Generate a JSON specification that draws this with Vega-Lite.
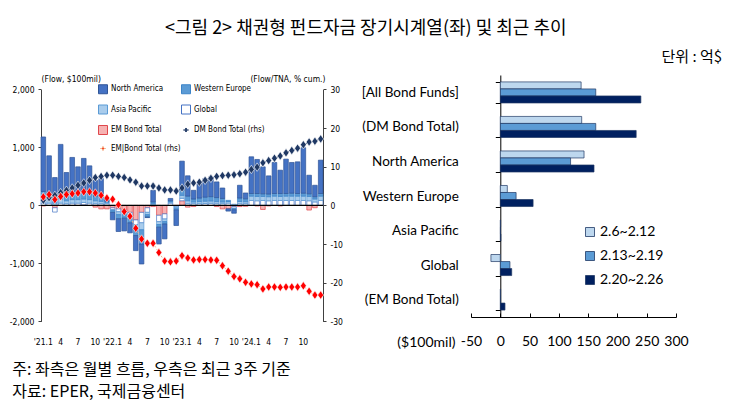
{
  "$schema": "https://vega.github.io/schema/vega-lite/v6.json",
  "padding": {"left": 9, "top": 20, "right": 2, "bottom": 2},
  "background": "white",
  "title": {"text": "<그림 2> 채권형 펀드자금 장기시계열(좌) 및 최근 추이", "anchor": "middle", "font": "Noto Sans CJK KR", "fontSize": 18, "fontWeight": "normal", "color": "#000", "offset": 12},
  "config": {"view": {"stroke": null}, "axis": {"labelColor": "#000", "titleColor": "#000"}, "legend": {"padding": 0}},
  "datasets": {
    "bars": [
      {"m":"2021-01","s":"EM Bond Total","v":-10},{"m":"2021-01","s":"Global","v":40},{"m":"2021-01","s":"Asia Pacific","v":80},{"m":"2021-01","s":"Western Europe","v":120},{"m":"2021-01","s":"North America","v":940},
      {"m":"2021-02","s":"Global","v":40},{"m":"2021-02","s":"Asia Pacific","v":60},{"m":"2021-02","s":"Western Europe","v":100},{"m":"2021-02","s":"North America","v":655},
      {"m":"2021-03","s":"EM Bond Total","v":-40},{"m":"2021-03","s":"Global","v":-75},{"m":"2021-03","s":"Asia Pacific","v":40},{"m":"2021-03","s":"Western Europe","v":60},{"m":"2021-03","s":"North America","v":380},
      {"m":"2021-04","s":"Global","v":40},{"m":"2021-04","s":"Asia Pacific","v":70},{"m":"2021-04","s":"Western Europe","v":110},{"m":"2021-04","s":"North America","v":832},
      {"m":"2021-05","s":"Global","v":30},{"m":"2021-05","s":"Asia Pacific","v":50},{"m":"2021-05","s":"Western Europe","v":90},{"m":"2021-05","s":"North America","v":397},
      {"m":"2021-06","s":"Global","v":40},{"m":"2021-06","s":"Asia Pacific","v":60},{"m":"2021-06","s":"Western Europe","v":100},{"m":"2021-06","s":"North America","v":627},
      {"m":"2021-07","s":"Global","v":40},{"m":"2021-07","s":"Asia Pacific","v":60},{"m":"2021-07","s":"Western Europe","v":100},{"m":"2021-07","s":"North America","v":465},
      {"m":"2021-08","s":"EM Bond Total","v":10},{"m":"2021-08","s":"Global","v":40},{"m":"2021-08","s":"Asia Pacific","v":60},{"m":"2021-08","s":"Western Europe","v":110},{"m":"2021-08","s":"North America","v":590},
      {"m":"2021-09","s":"Global","v":40},{"m":"2021-09","s":"Asia Pacific","v":60},{"m":"2021-09","s":"Western Europe","v":100},{"m":"2021-09","s":"North America","v":482},
      {"m":"2021-10","s":"EM Bond Total","v":-30},{"m":"2021-10","s":"Global","v":30},{"m":"2021-10","s":"Asia Pacific","v":50},{"m":"2021-10","s":"Western Europe","v":80},{"m":"2021-10","s":"North America","v":270},
      {"m":"2021-11","s":"EM Bond Total","v":-60},{"m":"2021-11","s":"Global","v":30},{"m":"2021-11","s":"Asia Pacific","v":40},{"m":"2021-11","s":"Western Europe","v":80},{"m":"2021-11","s":"North America","v":312},
      {"m":"2021-12","s":"EM Bond Total","v":-60},{"m":"2021-12","s":"Global","v":30},{"m":"2021-12","s":"Asia Pacific","v":20},{"m":"2021-12","s":"Western Europe","v":20},{"m":"2021-12","s":"North America","v":50},
      {"m":"2022-01","s":"EM Bond Total","v":-40},{"m":"2022-01","s":"Global","v":-30},{"m":"2022-01","s":"Asia Pacific","v":-20},{"m":"2022-01","s":"Western Europe","v":-30},{"m":"2022-01","s":"North America","v":-128},
      {"m":"2022-02","s":"EM Bond Total","v":-60},{"m":"2022-02","s":"Global","v":-50},{"m":"2022-02","s":"Asia Pacific","v":-50},{"m":"2022-02","s":"Western Europe","v":-70},{"m":"2022-02","s":"North America","v":-220},
      {"m":"2022-03","s":"EM Bond Total","v":-80},{"m":"2022-03","s":"Global","v":-40},{"m":"2022-03","s":"Asia Pacific","v":-40},{"m":"2022-03","s":"Western Europe","v":-60},{"m":"2022-03","s":"North America","v":-220},
      {"m":"2022-04","s":"EM Bond Total","v":-120},{"m":"2022-04","s":"Global","v":-60},{"m":"2022-04","s":"Asia Pacific","v":-50},{"m":"2022-04","s":"Western Europe","v":-70},{"m":"2022-04","s":"North America","v":-173},
      {"m":"2022-05","s":"EM Bond Total","v":-250},{"m":"2022-05","s":"Global","v":-80},{"m":"2022-05","s":"Asia Pacific","v":-60},{"m":"2022-05","s":"Western Europe","v":-130},{"m":"2022-05","s":"North America","v":-260},
      {"m":"2022-06","s":"EM Bond Total","v":-120},{"m":"2022-06","s":"Global","v":-180},{"m":"2022-06","s":"Asia Pacific","v":-120},{"m":"2022-06","s":"Western Europe","v":-245},{"m":"2022-06","s":"North America","v":-345},
      {"m":"2022-07","s":"EM Bond Total","v":-40},{"m":"2022-07","s":"Global","v":-80},{"m":"2022-07","s":"Asia Pacific","v":-40},{"m":"2022-07","s":"Western Europe","v":-40},{"m":"2022-07","s":"North America","v":-10},
      {"m":"2022-08","s":"EM Bond Total","v":-20},{"m":"2022-08","s":"Global","v":10},{"m":"2022-08","s":"Asia Pacific","v":20},{"m":"2022-08","s":"Western Europe","v":30},{"m":"2022-08","s":"North America","v":200},
      {"m":"2022-09","s":"EM Bond Total","v":-170},{"m":"2022-09","s":"Global","v":-110},{"m":"2022-09","s":"Asia Pacific","v":-50},{"m":"2022-09","s":"Western Europe","v":-45},{"m":"2022-09","s":"North America","v":-290},
      {"m":"2022-10","s":"EM Bond Total","v":-145},{"m":"2022-10","s":"Global","v":-90},{"m":"2022-10","s":"Asia Pacific","v":-45},{"m":"2022-10","s":"Western Europe","v":-40},{"m":"2022-10","s":"North America","v":-257},
      {"m":"2022-11","s":"Global","v":40},{"m":"2022-11","s":"Asia Pacific","v":20},{"m":"2022-11","s":"Western Europe","v":20},{"m":"2022-11","s":"North America","v":40},
      {"m":"2022-12","s":"EM Bond Total","v":-10},{"m":"2022-12","s":"Global","v":-17},{"m":"2022-12","s":"Asia Pacific","v":-20},{"m":"2022-12","s":"Western Europe","v":-30},{"m":"2022-12","s":"North America","v":-270},
      {"m":"2023-01","s":"EM Bond Total","v":80},{"m":"2023-01","s":"Global","v":43},{"m":"2023-01","s":"Asia Pacific","v":50},{"m":"2023-01","s":"Western Europe","v":90},{"m":"2023-01","s":"North America","v":500},
      {"m":"2023-02","s":"EM Bond Total","v":-30},{"m":"2023-02","s":"Global","v":30},{"m":"2023-02","s":"Asia Pacific","v":50},{"m":"2023-02","s":"Western Europe","v":80},{"m":"2023-02","s":"North America","v":350},
      {"m":"2023-03","s":"EM Bond Total","v":-20},{"m":"2023-03","s":"Global","v":30},{"m":"2023-03","s":"Asia Pacific","v":30},{"m":"2023-03","s":"Western Europe","v":50},{"m":"2023-03","s":"North America","v":150},
      {"m":"2023-04","s":"Global","v":30},{"m":"2023-04","s":"Asia Pacific","v":36},{"m":"2023-04","s":"Western Europe","v":60},{"m":"2023-04","s":"North America","v":250},
      {"m":"2023-05","s":"Global","v":32},{"m":"2023-05","s":"Asia Pacific","v":40},{"m":"2023-05","s":"Western Europe","v":70},{"m":"2023-05","s":"North America","v":320},
      {"m":"2023-06","s":"Global","v":36},{"m":"2023-06","s":"Asia Pacific","v":40},{"m":"2023-06","s":"Western Europe","v":75},{"m":"2023-06","s":"North America","v":340},
      {"m":"2023-07","s":"EM Bond Total","v":-20},{"m":"2023-07","s":"Global","v":30},{"m":"2023-07","s":"Asia Pacific","v":35},{"m":"2023-07","s":"Western Europe","v":70},{"m":"2023-07","s":"North America","v":270},
      {"m":"2023-08","s":"EM Bond Total","v":-60},{"m":"2023-08","s":"Global","v":30},{"m":"2023-08","s":"Asia Pacific","v":30},{"m":"2023-08","s":"Western Europe","v":60},{"m":"2023-08","s":"North America","v":180},
      {"m":"2023-09","s":"EM Bond Total","v":-58},{"m":"2023-09","s":"Global","v":40},{"m":"2023-09","s":"Asia Pacific","v":27},{"m":"2023-09","s":"Western Europe","v":20},{"m":"2023-09","s":"North America","v":-40},
      {"m":"2023-10","s":"EM Bond Total","v":-20},{"m":"2023-10","s":"Global","v":-30},{"m":"2023-10","s":"Asia Pacific","v":20},{"m":"2023-10","s":"Western Europe","v":-25},{"m":"2023-10","s":"North America","v":-60},
      {"m":"2023-11","s":"EM Bond Total","v":-20},{"m":"2023-11","s":"Global","v":30},{"m":"2023-11","s":"Asia Pacific","v":37},{"m":"2023-11","s":"Western Europe","v":60},{"m":"2023-11","s":"North America","v":220},
      {"m":"2023-12","s":"EM Bond Total","v":-15},{"m":"2023-12","s":"Global","v":30},{"m":"2023-12","s":"Asia Pacific","v":34},{"m":"2023-12","s":"Western Europe","v":50},{"m":"2023-12","s":"North America","v":100},
      {"m":"2024-01","s":"Global","v":85},{"m":"2024-01","s":"Asia Pacific","v":75},{"m":"2024-01","s":"Western Europe","v":45},{"m":"2024-01","s":"North America","v":633},
      {"m":"2024-02","s":"EM Bond Total","v":-10},{"m":"2024-02","s":"Global","v":80},{"m":"2024-02","s":"Asia Pacific","v":75},{"m":"2024-02","s":"Western Europe","v":50},{"m":"2024-02","s":"North America","v":587},
      {"m":"2024-03","s":"EM Bond Total","v":-70},{"m":"2024-03","s":"Global","v":85},{"m":"2024-03","s":"Asia Pacific","v":70},{"m":"2024-03","s":"Western Europe","v":45},{"m":"2024-03","s":"North America","v":465},
      {"m":"2024-04","s":"EM Bond Total","v":-10},{"m":"2024-04","s":"Global","v":80},{"m":"2024-04","s":"Asia Pacific","v":70},{"m":"2024-04","s":"Western Europe","v":45},{"m":"2024-04","s":"North America","v":314},
      {"m":"2024-05","s":"Global","v":85},{"m":"2024-05","s":"Asia Pacific","v":75},{"m":"2024-05","s":"Western Europe","v":45},{"m":"2024-05","s":"North America","v":535},
      {"m":"2024-06","s":"EM Bond Total","v":-10},{"m":"2024-06","s":"Global","v":85},{"m":"2024-06","s":"Asia Pacific","v":70},{"m":"2024-06","s":"Western Europe","v":50},{"m":"2024-06","s":"North America","v":402},
      {"m":"2024-07","s":"Global","v":85},{"m":"2024-07","s":"Asia Pacific","v":75},{"m":"2024-07","s":"Western Europe","v":45},{"m":"2024-07","s":"North America","v":593},
      {"m":"2024-08","s":"Global","v":85},{"m":"2024-08","s":"Asia Pacific","v":75},{"m":"2024-08","s":"Western Europe","v":50},{"m":"2024-08","s":"North America","v":530},
      {"m":"2024-09","s":"Global","v":85},{"m":"2024-09","s":"Asia Pacific","v":75},{"m":"2024-09","s":"Western Europe","v":45},{"m":"2024-09","s":"North America","v":546},
      {"m":"2024-10","s":"Global","v":85},{"m":"2024-10","s":"Asia Pacific","v":75},{"m":"2024-10","s":"Western Europe","v":50},{"m":"2024-10","s":"North America","v":784},
      {"m":"2024-11","s":"EM Bond Total","v":-80},{"m":"2024-11","s":"Global","v":80},{"m":"2024-11","s":"Asia Pacific","v":75},{"m":"2024-11","s":"Western Europe","v":45},{"m":"2024-11","s":"North America","v":320},
      {"m":"2024-12","s":"EM Bond Total","v":-40},{"m":"2024-12","s":"Global","v":60},{"m":"2024-12","s":"Asia Pacific","v":50},{"m":"2024-12","s":"Western Europe","v":40},{"m":"2024-12","s":"North America","v":197},
      {"m":"2025-01","s":"Global","v":85},{"m":"2025-01","s":"Asia Pacific","v":75},{"m":"2025-01","s":"Western Europe","v":45},{"m":"2025-01","s":"North America","v":575}
    ],
    "lines": [
      {"m":"2021-01","s":"DM Bond Total (rhs)","v":1.3},{"m":"2021-01","s":"EM|Bond Total (rhs)","v":2.2},
      {"m":"2021-02","s":"DM Bond Total (rhs)","v":2.0},{"m":"2021-02","s":"EM|Bond Total (rhs)","v":2.8},
      {"m":"2021-03","s":"DM Bond Total (rhs)","v":2.6},{"m":"2021-03","s":"EM|Bond Total (rhs)","v":1.5},
      {"m":"2021-04","s":"DM Bond Total (rhs)","v":3.3},{"m":"2021-04","s":"EM|Bond Total (rhs)","v":2.3},
      {"m":"2021-05","s":"DM Bond Total (rhs)","v":3.9},{"m":"2021-05","s":"EM|Bond Total (rhs)","v":2.8},
      {"m":"2021-06","s":"DM Bond Total (rhs)","v":4.5},{"m":"2021-06","s":"EM|Bond Total (rhs)","v":3.0},
      {"m":"2021-07","s":"DM Bond Total (rhs)","v":5.2},{"m":"2021-07","s":"EM|Bond Total (rhs)","v":3.2},
      {"m":"2021-08","s":"DM Bond Total (rhs)","v":5.8},{"m":"2021-08","s":"EM|Bond Total (rhs)","v":3.5},
      {"m":"2021-09","s":"DM Bond Total (rhs)","v":6.5},{"m":"2021-09","s":"EM|Bond Total (rhs)","v":3.5},
      {"m":"2021-10","s":"DM Bond Total (rhs)","v":7.2},{"m":"2021-10","s":"EM|Bond Total (rhs)","v":3.2},
      {"m":"2021-11","s":"DM Bond Total (rhs)","v":7.5},{"m":"2021-11","s":"EM|Bond Total (rhs)","v":2.6},
      {"m":"2021-12","s":"DM Bond Total (rhs)","v":7.8},{"m":"2021-12","s":"EM|Bond Total (rhs)","v":1.9},
      {"m":"2022-01","s":"DM Bond Total (rhs)","v":7.8},{"m":"2022-01","s":"EM|Bond Total (rhs)","v":1.6},
      {"m":"2022-02","s":"DM Bond Total (rhs)","v":7.5},{"m":"2022-02","s":"EM|Bond Total (rhs)","v":0.2},
      {"m":"2022-03","s":"DM Bond Total (rhs)","v":7.2},{"m":"2022-03","s":"EM|Bond Total (rhs)","v":-1.6},
      {"m":"2022-04","s":"DM Bond Total (rhs)","v":6.6},{"m":"2022-04","s":"EM|Bond Total (rhs)","v":-2.8},
      {"m":"2022-05","s":"DM Bond Total (rhs)","v":6.0},{"m":"2022-05","s":"EM|Bond Total (rhs)","v":-5.9},
      {"m":"2022-06","s":"DM Bond Total (rhs)","v":5.0},{"m":"2022-06","s":"EM|Bond Total (rhs)","v":-8.7},
      {"m":"2022-07","s":"DM Bond Total (rhs)","v":5.0},{"m":"2022-07","s":"EM|Bond Total (rhs)","v":-9.8},
      {"m":"2022-08","s":"DM Bond Total (rhs)","v":5.0},{"m":"2022-08","s":"EM|Bond Total (rhs)","v":-9.8},
      {"m":"2022-09","s":"DM Bond Total (rhs)","v":4.5},{"m":"2022-09","s":"EM|Bond Total (rhs)","v":-12.2},
      {"m":"2022-10","s":"DM Bond Total (rhs)","v":4.0},{"m":"2022-10","s":"EM|Bond Total (rhs)","v":-14.4},
      {"m":"2022-11","s":"DM Bond Total (rhs)","v":4.0},{"m":"2022-11","s":"EM|Bond Total (rhs)","v":-14.6},
      {"m":"2022-12","s":"DM Bond Total (rhs)","v":3.7},{"m":"2022-12","s":"EM|Bond Total (rhs)","v":-14.4},
      {"m":"2023-01","s":"DM Bond Total (rhs)","v":4.5},{"m":"2023-01","s":"EM|Bond Total (rhs)","v":-13.0},
      {"m":"2023-02","s":"DM Bond Total (rhs)","v":5.5},{"m":"2023-02","s":"EM|Bond Total (rhs)","v":-13.6},
      {"m":"2023-03","s":"DM Bond Total (rhs)","v":5.8},{"m":"2023-03","s":"EM|Bond Total (rhs)","v":-14.1},
      {"m":"2023-04","s":"DM Bond Total (rhs)","v":6.0},{"m":"2023-04","s":"EM|Bond Total (rhs)","v":-14.0},
      {"m":"2023-05","s":"DM Bond Total (rhs)","v":6.5},{"m":"2023-05","s":"EM|Bond Total (rhs)","v":-14.0},
      {"m":"2023-06","s":"DM Bond Total (rhs)","v":7.0},{"m":"2023-06","s":"EM|Bond Total (rhs)","v":-14.1},
      {"m":"2023-07","s":"DM Bond Total (rhs)","v":7.5},{"m":"2023-07","s":"EM|Bond Total (rhs)","v":-14.2},
      {"m":"2023-08","s":"DM Bond Total (rhs)","v":7.7},{"m":"2023-08","s":"EM|Bond Total (rhs)","v":-15.6},
      {"m":"2023-09","s":"DM Bond Total (rhs)","v":7.8},{"m":"2023-09","s":"EM|Bond Total (rhs)","v":-17.0},
      {"m":"2023-10","s":"DM Bond Total (rhs)","v":7.9},{"m":"2023-10","s":"EM|Bond Total (rhs)","v":-18.4},
      {"m":"2023-11","s":"DM Bond Total (rhs)","v":8.2},{"m":"2023-11","s":"EM|Bond Total (rhs)","v":-19.0},
      {"m":"2023-12","s":"DM Bond Total (rhs)","v":8.6},{"m":"2023-12","s":"EM|Bond Total (rhs)","v":-19.9},
      {"m":"2024-01","s":"DM Bond Total (rhs)","v":9.3},{"m":"2024-01","s":"EM|Bond Total (rhs)","v":-20.3},
      {"m":"2024-02","s":"DM Bond Total (rhs)","v":9.9},{"m":"2024-02","s":"EM|Bond Total (rhs)","v":-20.5},
      {"m":"2024-03","s":"DM Bond Total (rhs)","v":11.0},{"m":"2024-03","s":"EM|Bond Total (rhs)","v":-21.6},
      {"m":"2024-04","s":"DM Bond Total (rhs)","v":11.6},{"m":"2024-04","s":"EM|Bond Total (rhs)","v":-21.1},
      {"m":"2024-05","s":"DM Bond Total (rhs)","v":12.2},{"m":"2024-05","s":"EM|Bond Total (rhs)","v":-21.1},
      {"m":"2024-06","s":"DM Bond Total (rhs)","v":12.8},{"m":"2024-06","s":"EM|Bond Total (rhs)","v":-21.2},
      {"m":"2024-07","s":"DM Bond Total (rhs)","v":13.6},{"m":"2024-07","s":"EM|Bond Total (rhs)","v":-21.1},
      {"m":"2024-08","s":"DM Bond Total (rhs)","v":14.2},{"m":"2024-08","s":"EM|Bond Total (rhs)","v":-21.1},
      {"m":"2024-09","s":"DM Bond Total (rhs)","v":14.8},{"m":"2024-09","s":"EM|Bond Total (rhs)","v":-21.1},
      {"m":"2024-10","s":"DM Bond Total (rhs)","v":15.7},{"m":"2024-10","s":"EM|Bond Total (rhs)","v":-20.8},
      {"m":"2024-11","s":"DM Bond Total (rhs)","v":16.4},{"m":"2024-11","s":"EM|Bond Total (rhs)","v":-22.2},
      {"m":"2024-12","s":"DM Bond Total (rhs)","v":16.6},{"m":"2024-12","s":"EM|Bond Total (rhs)","v":-23.2},
      {"m":"2025-01","s":"DM Bond Total (rhs)","v":17.2},{"m":"2025-01","s":"EM|Bond Total (rhs)","v":-23.2}
    ],
    "recent": [
      {"cat":"[All Bond Funds]","p":"2.6~2.12","v":138},{"cat":"[All Bond Funds]","p":"2.13~2.19","v":163},{"cat":"[All Bond Funds]","p":"2.20~2.26","v":240},
      {"cat":"(DM Bond Total)","p":"2.6~2.12","v":139},{"cat":"(DM Bond Total)","p":"2.13~2.19","v":163},{"cat":"(DM Bond Total)","p":"2.20~2.26","v":232},
      {"cat":"North America","p":"2.6~2.12","v":143},{"cat":"North America","p":"2.13~2.19","v":120},{"cat":"North America","p":"2.20~2.26","v":160},
      {"cat":"Western Europe","p":"2.6~2.12","v":12},{"cat":"Western Europe","p":"2.13~2.19","v":27},{"cat":"Western Europe","p":"2.20~2.26","v":56},
      {"cat":"Asia Pacific","p":"2.6~2.12","v":0.5},{"cat":"Asia Pacific","p":"2.13~2.19","v":0.3},{"cat":"Asia Pacific","p":"2.20~2.26","v":1},
      {"cat":"Global","p":"2.6~2.12","v":-16},{"cat":"Global","p":"2.13~2.19","v":16.5},{"cat":"Global","p":"2.20~2.26","v":19.5},
      {"cat":"(EM Bond Total)","p":"2.6~2.12","v":0.5},{"cat":"(EM Bond Total)","p":"2.13~2.19","v":0.5},{"cat":"(EM Bond Total)","p":"2.20~2.26","v":8}
    ]
  },
  "vconcat": [
    {
      "title": {"text": "단위 : 억$", "anchor": "end", "font": "Noto Sans CJK KR", "fontSize": 15, "fontWeight": "normal", "color": "#000", "offset": 3, "dx": 34},
      "spacing": 18,
      "resolve": {"scale": {"fill": "independent", "stroke": "independent"}, "legend": {"fill": "independent"}},
      "hconcat": [
        {
          "width": 282,
          "height": 246.4,
          "title": {"text": ["주: 좌측은 월별 흐름, 우측은 최근 3주 기준", "자료: EPER, 국제금융센터"], "orient": "bottom", "anchor": "start", "frame": "bounds", "font": "Noto Sans CJK KR", "fontSize": 16, "fontWeight": "normal", "color": "#000", "lineHeight": 22, "offset": 16, "dx": 3},
          "layer": [
            {
              "data": {"name": "bars"},
              "mark": {"type": "bar", "strokeWidth": 0.7},
              "encoding": {
                "x": {"field": "m", "type": "ordinal", "scale": {"paddingInner": 0.2, "paddingOuter": 0},
                  "axis": {"title": null, "labelAngle": 0, "domain": false, "ticks": false, "labelPadding": 16, "labelOverlap": false,
                    "labelFont": "Liberation Sans Narrow, Arial Narrow, DejaVu Sans Condensed, sans-serif", "labelFontSize": 8.5,
                    "labelExpr": "substring(datum.value,5) == '01' ? (substring(datum.value,0,4) == '2025' ? '' : \"'\" + substring(datum.value,2,4) + '.1') : (indexof(['04','07','10'], substring(datum.value,5)) >= 0 ? '' + toNumber(substring(datum.value,5)) : '')"}},
                "y": {"field": "v", "type": "quantitative", "stack": "zero", "scale": {"domain": [-2000, 2000], "nice": false, "range": [246.4, 14.4]},
                  "axis": {"values": [-2000, -1000, 0, 1000, 2000], "labelExpr": "datum.value == 0 ? '0' : (datum.value < 0 ? '-' : '') + format(abs(datum.value), ',')", "grid": false, "title": "(Flow, $100mil)", "titleAngle": 0, "titleX": 0, "titleY": 3.4, "titleAlign": "left", "titleBaseline": "middle",
                    "titleFont": "Liberation Sans Narrow, Arial Narrow, DejaVu Sans Condensed, sans-serif", "titleFontSize": 8.5, "titleFontWeight": "normal",
                    "labelFont": "Liberation Sans Narrow, Arial Narrow, DejaVu Sans Condensed, sans-serif", "labelFontSize": 8.5, "labelPadding": 4, "tickSize": 3, "domainColor": "#404040", "tickColor": "#404040"}},
                "fill": {"field": "s", "type": "nominal",
                  "scale": {"domain": ["North America", "Asia Pacific", "EM Bond Total", "EM|Bond Total (rhs)", "Western Europe", "Global", "DM Bond Total (rhs)"],
                    "range": ["#4472C4", "#A9CCEC", "#F6B2B2", "#FF0000", "#5B9BD5", "#FFFFFF", "#1F3864"]},
                  "legend": {"orient": "none", "legendX": 57, "legendY": 9, "columns": 2, "title": null, "symbolSize": 81, "symbolStrokeWidth": 1,
                    "labelFont": "Liberation Sans Narrow, Arial Narrow, DejaVu Sans Condensed, sans-serif", "labelFontSize": 8, "labelColor": "#000", "labelOffset": 3, "rowPadding": 6.5, "columnPadding": -11,
                    "encode": {"symbols": {"update": {
                      "shape": {"signal": "indexof(datum.value, 'rhs') >= 0 ? 'M-0.62,0H-0.26M0.26,0H0.62M0,-0.45L0.25,0L0,0.45L-0.25,0Z' : 'square'"},
                      "stroke": {"signal": "['#2F5597','#5B9BD5','#E0474C','#F4B183','#3C84C8','#4472C4','#1F3864'][indexof(['North America','Asia Pacific','EM Bond Total','EM|Bond Total (rhs)','Western Europe','Global','DM Bond Total (rhs)'], datum.value)]"},
                      "strokeWidth": {"value": 1},
                      "opacity": {"value": 1}}}}}},
                "stroke": {"field": "s", "type": "nominal",
                  "scale": {"domain": ["North America", "Asia Pacific", "EM Bond Total", "EM|Bond Total (rhs)", "Western Europe", "Global", "DM Bond Total (rhs)"],
                    "range": ["#2F5597", "#5B9BD5", "#E0474C", "#F4B183", "#3C84C8", "#4472C4", "#1F3864"]},
                  "legend": null},
                "order": {"field": "m", "type": "ordinal"}
              }
            },
            {
              "data": {"values": [{}]},
              "mark": {"type": "rule", "color": "#000", "strokeWidth": 1.2},
              "encoding": {"y": {"datum": 0, "type": "quantitative", "scale": {"domain": [-2000, 2000], "nice": false, "range": [246.4, 14.4]}, "axis": null}}
            },
            {
              "data": {"name": "lines"},
              "mark": {"type": "line", "strokeWidth": 1, "strokeDash": [2, 2]},
              "encoding": {
                "x": {"field": "m", "type": "ordinal", "axis": {"title": null, "labelAngle": 0, "domain": false, "ticks": false, "labelPadding": 16, "labelOverlap": false,
                    "labelFont": "Liberation Sans Narrow, Arial Narrow, DejaVu Sans Condensed, sans-serif", "labelFontSize": 8.5,
                    "labelExpr": "substring(datum.value,5) == '01' ? (substring(datum.value,0,4) == '2025' ? '' : \"'\" + substring(datum.value,2,4) + '.1') : (indexof(['04','07','10'], substring(datum.value,5)) >= 0 ? '' + toNumber(substring(datum.value,5)) : '')"}},
                "y": {"field": "v", "type": "quantitative", "scale": {"domain": [-30, 30], "nice": false, "range": [246.4, 14.4]},
                  "axis": {"orient": "right", "values": [-30, -20, -10, 0, 10, 20, 30], "labelExpr": "'' + datum.value", "grid": false, "title": "(Flow/TNA, % cum.)", "titleAngle": 0, "titleX": 2, "titleY": 3.4, "titleAlign": "right", "titleBaseline": "middle",
                    "titleFont": "Liberation Sans Narrow, Arial Narrow, DejaVu Sans Condensed, sans-serif", "titleFontSize": 8.5, "titleFontWeight": "normal",
                    "labelFont": "Liberation Sans Narrow, Arial Narrow, DejaVu Sans Condensed, sans-serif", "labelFontSize": 8.5, "labelPadding": 4, "tickSize": 3, "domainColor": "#404040", "tickColor": "#404040"}},
                "stroke": {"field": "s", "type": "nominal", "legend": null}
              }
            },
            {
              "data": {"name": "lines"},
              "mark": {"type": "point", "shape": "M0,-1L0.7,0L0,1L-0.7,0Z", "size": 72, "filled": true, "opacity": 1, "stroke": "#FFFFFF", "strokeWidth": 0.6},
              "encoding": {
                "x": {"field": "m", "type": "ordinal", "axis": {"title": null, "labelAngle": 0, "domain": false, "ticks": false, "labelPadding": 16, "labelOverlap": false,
                    "labelFont": "Liberation Sans Narrow, Arial Narrow, DejaVu Sans Condensed, sans-serif", "labelFontSize": 8.5,
                    "labelExpr": "substring(datum.value,5) == '01' ? (substring(datum.value,0,4) == '2025' ? '' : \"'\" + substring(datum.value,2,4) + '.1') : (indexof(['04','07','10'], substring(datum.value,5)) >= 0 ? '' + toNumber(substring(datum.value,5)) : '')"}},
                "y": {"field": "v", "type": "quantitative", "scale": {"domain": [-30, 30], "nice": false, "range": [246.4, 14.4]}, "axis": null},
                "fill": {"field": "s", "type": "nominal", "legend": null}
              }
            }
          ],
          "resolve": {"scale": {"y": "independent"}, "axis": {"y": "independent"}}
        },
        {
          "width": 205,
          "height": 242,
          "data": {"name": "recent"},
          "mark": {"type": "bar", "stroke": "#1F3864", "strokeWidth": 0.7},
          "encoding": {
            "y": {"field": "cat", "type": "nominal", "sort": ["[All Bond Funds]", "(DM Bond Total)", "North America", "Western Europe", "Asia Pacific", "Global", "(EM Bond Total)"],
              "scale": {"paddingInner": 0.39, "paddingOuter": 0.2},
              "axis": {"title": null, "offset": -29.3, "tickBand": "extent", "tickSize": 5, "labelPadding": 37, "domainColor": "#000", "tickColor": "#000", "labelFont": "Lato", "labelFontSize": 13.5, "labelColor": "#000"}},
            "yOffset": {"field": "p", "type": "nominal", "sort": ["2.6~2.12", "2.13~2.19", "2.20~2.26"], "scale": {"paddingInner": 0}},
            "x": {"field": "v", "type": "quantitative", "scale": {"domain": [-50, 300], "nice": false},
              "axis": {"values": [-50, 0, 50, 100, 150, 200, 250, 300], "labelExpr": "'' + datum.value", "grid": false, "tickSize": -4, "labelPadding": 21, "labelFlush": false, "domainColor": "#000", "tickColor": "#000",
                "labelFont": "Lato", "labelFontSize": 14, "labelColor": "#000",
                "title": "($100mil)", "titleX": -16, "titleY": 25, "titleAlign": "right", "titleBaseline": "middle", "titleFont": "Lato", "titleFontSize": 14, "titleFontWeight": "normal"}},
            "fill": {"field": "p", "type": "nominal", "sort": ["2.6~2.12", "2.13~2.19", "2.20~2.26"],
              "scale": {"domain": ["2.6~2.12", "2.13~2.19", "2.20~2.26"], "range": ["#BDD7EE", "#5B9BD5", "#002060"]},
              "legend": {"orient": "none", "legendX": 112, "legendY": 150, "title": null, "symbolType": "square", "symbolSize": 81, "symbolStrokeColor": "#1F3864", "symbolStrokeWidth": 0.8,
                "labelFont": "Lato", "labelFontSize": 14, "labelColor": "#000", "rowPadding": 10, "labelOffset": 3}}
          }
        }
      ]
    }
  ]
}
